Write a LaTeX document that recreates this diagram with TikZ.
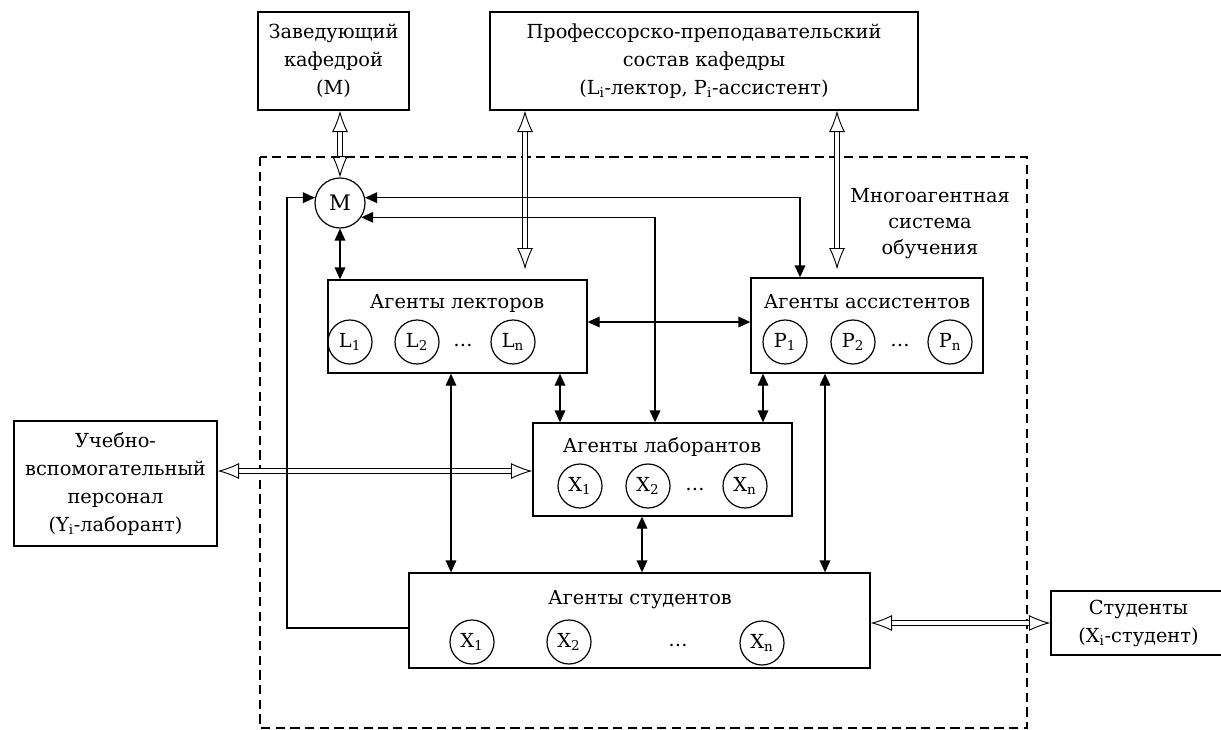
\documentclass[tikz,border=0pt]{standalone}
\usepackage{fontspec}
\setmainfont{DejaVu Serif}
\usetikzlibrary{arrows.meta}

\begin{document}
\begin{tikzpicture}[x=0.75pt,y=0.75pt,yscale=-1,xscale=1,
  box/.style={draw, line width=1pt, inner sep=0pt, align=center, font=\fontsize{14.5}{21}\selectfont},
  title/.style={inner sep=0.75pt, font=\fontsize{14.5}{17}\selectfont},
  agent/.style={draw, circle, line width=0.9pt, minimum size=33pt, inner sep=0pt, font=\fontsize{14.5}{17}\selectfont},
  link/.style={line width=1pt, {Triangle[length=9pt,width=8pt]}-{Triangle[length=9pt,width=8pt]}},
  arrow/.style={line width=1pt, -{Triangle[length=9pt,width=8pt]}},
  hollow/.style={double, double distance=2.6pt, line width=0.7pt, {Latex[open,length=16pt,width=12pt]}-{Latex[open,length=16pt,width=12pt]}}]
\useasboundingbox (0,0) rectangle (1221,729);

%Dashed frame: multi-agent system
\draw [dashed, line width=1pt, dash pattern=on 7pt off 4pt] (260,157) rectangle (1027,728);
% Text Node
\node [align=center, font=\fontsize{14.5}{19.5}\selectfont] (mas) at (930,224) {Многоагентная\\система\\обучения};

%Outer boxes
\node [box, minimum width=113.25pt, minimum height=73.5pt] (head) at (333.5,61) {Заведующий\\кафедрой\\(M)};
\node [box, minimum width=321pt, minimum height=73.5pt] (staff) at (704,61) {Профессорско-преподавательский\\состав кафедры\\(L\textsubscript{i}-лектор, P\textsubscript{i}-ассистент)};
\node [box, minimum width=152.25pt, minimum height=93.75pt] (aux) at (115.5,483.5) {Учебно-\\вспомогательный\\персонал\\(Y\textsubscript{i}-лаборант)};
\node [box, minimum width=131.25pt, minimum height=48pt] (pupils) at (1138.5,623) {Студенты\\(X\textsubscript{i}-студент)};

%Manager agent
\node [agent, minimum size=37.5pt, font=\fontsize{16}{18}\selectfont] (M) at (340,203) {M};

%Agents of lecturers
\node [box, minimum width=194.25pt, minimum height=69.75pt] (lec) at (457.5,326.5) {};
\node [title] (lect) at (457,303) {Агенты лекторов};
\node [agent] (L1) at (350,342) {L\textsubscript{1}};
\node [agent] (L2) at (417,342) {L\textsubscript{2}};
\node [title] (Ld) at (463,346) {\dots};
\node [agent] (Ln) at (513,342) {L\textsubscript{n}};

%Agents of assistants
\node [box, minimum width=174pt, minimum height=71.25pt] (ast) at (867,325.5) {};
\node [title] (astt) at (867,302) {Агенты ассистентов};
\node [agent] (P1) at (785,342) {P\textsubscript{1}};
\node [agent] (P2) at (853,342) {P\textsubscript{2}};
\node [title] (Pd) at (900,346) {\dots};
\node [agent] (Pn) at (950,342) {P\textsubscript{n}};

%Agents of laboratory staff
\node [box, minimum width=194.25pt, minimum height=69.75pt] (lab) at (662.5,469.5) {};
\node [title] (labt) at (662,447) {Агенты лаборантов};
\node [agent] (Y1) at (580,486) {X\textsubscript{1}};
\node [agent] (Y2) at (648,486) {X\textsubscript{2}};
\node [title] (Yd) at (695,490) {\dots};
\node [agent] (Yn) at (745,486) {X\textsubscript{n}};

%Agents of students
\node [box, minimum width=345.75pt, minimum height=71.25pt] (stu) at (639.5,620.5) {};
\node [title] (stut) at (640,600) {Агенты студентов};
\node [agent] (X1) at (472,642) {X\textsubscript{1}};
\node [agent] (X2) at (569,642) {X\textsubscript{2}};
\node [title] (Xd) at (678,646) {\dots};
\node [agent] (Xn) at (762,643) {X\textsubscript{n}};

%Bend points and columns of the connectors
\coordinate (sl) at (525,0);
\coordinate (sa) at (837,0);
\coordinate (ba) at (800,198);
\coordinate (bb) at (655,217);
\coordinate (bl) at (287,628);
\coordinate (hy) at (0,322);
\coordinate (hz) at (0,471);
\coordinate (xa) at (451,0);
\coordinate (xb) at (560,0);
\coordinate (xc) at (763,0);
\coordinate (xd) at (825,0);
\coordinate (xe) at (642,0);

%Hollow connectors to the outer world
\draw [hollow] (head.south -| M) -- (M.north);
\draw [hollow, shorten >=7.5pt] (staff.south -| sl) -- (lec.north -| sl);
\draw [hollow, shorten >=6pt] (staff.south -| sa) -- (ast.north -| sa);
\draw [hollow] (aux.east |- hz) -- (lab.west |- hz);
\draw [hollow] (stu.east |- pupils.west) -- (pupils.west);

%Connectors of the manager
\draw [link] (M.south) -- (M.south |- lec.north);
\draw [link] (M.12) -- (M.12 -| ba) -- (ba |- ast.north);
\draw [link] (M.-34) -- (M.-34 -| bb) -- (bb |- lab.north);
\draw [arrow] (bl -| stu.west) -- (bl) |- (M.168);

%Connectors between agent groups
\draw [link] (lec.east |- hy) -- (ast.west |- hy);
\draw [link] (lec.south -| xa) -- (stu.north -| xa);
\draw [link] (lec.south -| xb) -- (lab.north -| xb);
\draw [link] (ast.south -| xc) -- (lab.north -| xc);
\draw [link] (ast.south -| xd) -- (stu.north -| xd);
\draw [link] (lab.south -| xe) -- (stu.north -| xe);

\end{tikzpicture}
\end{document}
